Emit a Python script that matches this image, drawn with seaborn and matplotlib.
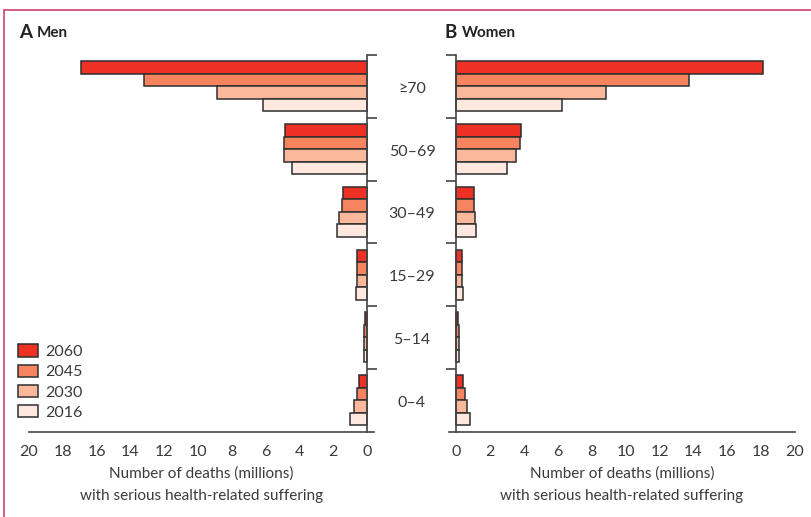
import matplotlib
matplotlib.use("Agg")
import matplotlib.pyplot as plt
import matplotlib.transforms as mtransforms
from matplotlib.lines import Line2D
import pandas as pd
import seaborn as sns

# Age groups (top to bottom) and projection years (top to bottom within a group)
age_groups = ["≥70", "50–69", "30–49", "15–29", "5–14", "0–4"]
years = ["2060", "2045", "2030", "2016"]

# Deaths with serious health-related suffering, millions — men
men_2060 = [16.9, 4.82, 1.42, 0.55, 0.12, 0.44]
men_2045 = [13.2, 4.92, 1.48, 0.56, 0.14, 0.57]
men_2030 = [8.85, 4.92, 1.66, 0.57, 0.16, 0.75]
men_2016 = [6.16, 4.42, 1.74, 0.61, 0.18, 0.99]

# Deaths with serious health-related suffering, millions — women
women_2060 = [18.1, 3.84, 1.06, 0.32, 0.10, 0.42]
women_2045 = [13.75, 3.74, 1.06, 0.34, 0.13, 0.52]
women_2030 = [8.85, 3.52, 1.12, 0.36, 0.14, 0.64]
women_2016 = [6.24, 2.99, 1.14, 0.42, 0.18, 0.81]

x_ticks = [0, 2, 4, 6, 8, 10, 12, 14, 16, 18, 20]

palette = {"2060": "#EE3124", "2045": "#F5845F", "2030": "#FBB89B", "2016": "#FEE8DF"}
TEXT = "#3a3a3a"
SPINE = "#444444"
FRAME = "#D4507A"


def long_frame(series_by_year):
    rows = []
    for year, values in series_by_year.items():
        for age, v in zip(age_groups, values):
            rows.append({"age": age, "year": year, "deaths": v})
    return pd.DataFrame(rows)


men = long_frame({"2060": men_2060, "2045": men_2045, "2030": men_2030, "2016": men_2016})
women = long_frame({"2060": women_2060, "2045": women_2045, "2030": women_2030, "2016": women_2016})

sns.set_theme(style="white")
plt.rcParams["font.family"] = ["Lato", "DejaVu Sans"]
plt.rcParams["text.color"] = TEXT
plt.rcParams["axes.labelcolor"] = TEXT
plt.rcParams["xtick.color"] = SPINE
plt.rcParams["ytick.color"] = SPINE
plt.rcParams["xtick.labelcolor"] = TEXT

W, H = 811, 517
fig = plt.figure(figsize=(W / 100, H / 100), dpi=100)

ax_bottom = 1 - 431.5 / H
ax_height = (431.5 - 55) / H
ax_m = fig.add_axes([29 / W, ax_bottom, (374.3 - 29) / W, ax_height])
ax_w = fig.add_axes([448.7 / W, ax_bottom, (795 - 448.7) / W, ax_height])

xlabel = "Number of deaths (millions)\nwith serious health-related suffering"

for ax, df, side in [(ax_m, men, "right"), (ax_w, women, "left")]:
    sns.barplot(data=df, x="deaths", y="age", hue="year", order=age_groups,
                hue_order=years, palette=palette, orient="h", width=0.8,
                saturation=1, edgecolor="#2e2e2e", linewidth=1.1, ax=ax,
                legend=(ax is ax_m))
    ax.set_ylim(5.5, -0.5)
    if side == "right":
        ax.set_xlim(20, -0.45)
    else:
        ax.set_xlim(-0.45, 20)
    ax.set_xticks(x_ticks)
    ax.set_xticklabels([str(t) for t in x_ticks], fontsize=11.5)
    ax.set_yticks([-0.5, 0.5, 1.5, 2.5, 3.5, 4.5])
    ax.set_yticklabels([])
    ax.set_ylabel("")
    ax.set_xlabel(xlabel, fontsize=11, labelpad=5, linespacing=1.75)
    for s in ["top", "left", "right", "bottom"]:
        ax.spines[s].set_visible(False)
    ax.spines["bottom"].set_visible(True)
    ax.spines[side].set_visible(True)
    ax.spines[side].set_position(("data", 0))
    for s in ["bottom", side]:
        ax.spines[s].set_color(SPINE)
        ax.spines[s].set_linewidth(1.2)
    ax.yaxis.set_ticks_position(side)
    ax.tick_params(axis="x", direction="out", length=6, width=1.2, pad=4)
    ax.tick_params(axis="y", direction="out", length=7, width=1.2)
    ax.set_facecolor("white")

# Legend in the lower-left corner of the men panel
handles, labels = ax_m.get_legend_handles_labels()
ax_m.legend(handles, labels, loc="lower left",
            bbox_to_anchor=(18 / W, 1 - 420 / H), bbox_transform=fig.transFigure,
            frameon=False, fontsize=11.5, handlelength=1.25, handleheight=0.78,
            handletextpad=0.45, labelspacing=0.36, borderpad=0, borderaxespad=0)

# Age-group labels in the gap between the two panels
trans = mtransforms.blended_transform_factory(fig.transFigure, ax_m.transData)
trans = mtransforms.offset_copy(trans, fig=fig, y=-2.5, units="dots")
for i, age in enumerate(age_groups):
    fig.text(412 / W, i, age, transform=trans, ha="center", va="center",
             fontsize=11.5, color=TEXT)

# Panel titles
ty = 1 - 33 / H
fig.text(19 / W, ty, "A", fontsize=13.5, fontweight="bold", va="center", color="#222222")
fig.text(37 / W, ty, "Men", fontsize=11, fontweight="bold", va="center", color="#222222")
fig.text(445 / W, ty, "B", fontsize=13.5, fontweight="bold", va="center", color="#222222")
fig.text(462 / W, ty, "Women", fontsize=11, fontweight="bold", va="center", color="#222222")

# Frame lines along the top and left edges
fx, fy = 4 / W, 1 - 10 / H
fig.add_artist(Line2D([fx, 1], [fy, fy], transform=fig.transFigure, color=FRAME, lw=1.3))
fig.add_artist(Line2D([fx, fx], [0, fy], transform=fig.transFigure, color=FRAME, lw=1.3))

fig.savefig("out.png", dpi=100, facecolor="white")
